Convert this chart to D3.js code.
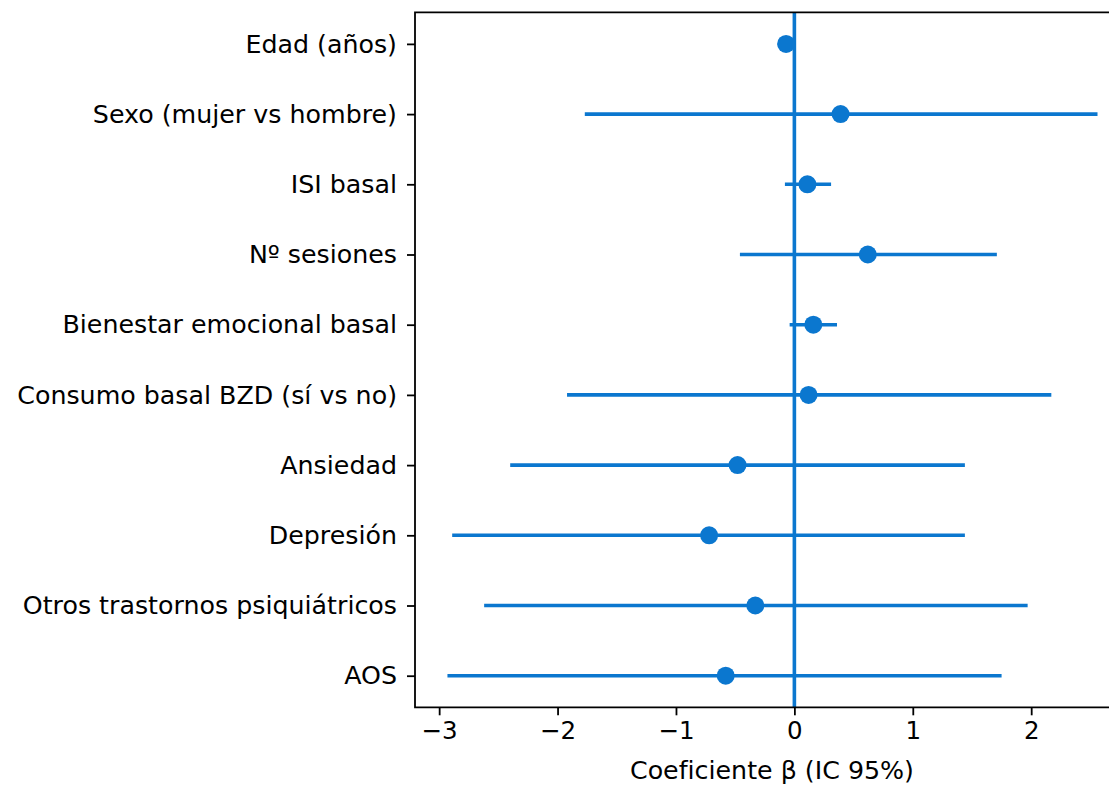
<!DOCTYPE html>
<html lang="es">
  <head>
    <meta charset="UTF-8" />
    <title>Forest plot</title>
    <script src="https://d3js.org/d3.v7.min.js"></script>
    <style>
      html,
      body {
        margin: 0;
        padding: 0;
        background: #fff;
        overflow: hidden;
      }
      svg {
        display: block;
        font-family: "DejaVu Sans", sans-serif;
      }
    </style>
  </head>
  <body>
    <svg id="chart"></svg>
    <script>
      // Predictors, top to bottom
      const variables = [
        "Edad (años)",
        "Sexo (mujer vs hombre)",
        "ISI basal",
        "Nº sesiones",
        "Bienestar emocional basal",
        "Consumo basal BZD (sí vs no)",
        "Ansiedad",
        "Depresión",
        "Otros trastornos psiquiátricos",
        "AOS",
      ];
      // beta estimates and 95% CI
      const beta = [-0.07, 0.39, 0.11, 0.62, 0.16, 0.12, -0.48, -0.72, -0.33, -0.58];
      const ciLow = [-0.1, -1.77, -0.08, -0.46, -0.04, -1.92, -2.4, -2.89, -2.62, -2.93];
      const ciHigh = [-0.04, 2.56, 0.31, 1.71, 0.36, 2.17, 1.44, 1.44, 1.97, 1.75];
      const xTicks = [-3, -2, -1, 0, 1, 2];

      const W = 1109,
        H = 786;
      const color = "#0b77cf";
      // plot box (right edge falls outside the picture, as in the original)
      const box = { left: 415, right: 1129, top: 12.3, bottom: 707.3 };

      const svg = d3.select("#chart").attr("width", W).attr("height", H);

      const x = d3.scaleLinear().domain([-3.204, 2.826]).range([box.left, box.right]);
      const y = d3
        .scaleLinear()
        .domain([-0.45, variables.length - 1 + 0.45])
        .range([box.top, box.bottom]);

      const rows = variables.map((v, i) => ({
        name: v,
        i: i,
        b: beta[i],
        lo: ciLow[i],
        hi: ciHigh[i],
      }));

      // zero reference line
      svg
        .append("line")
        .attr("x1", x(0))
        .attr("x2", x(0))
        .attr("y1", box.top)
        .attr("y2", box.bottom)
        .attr("stroke", color)
        .attr("stroke-width", 3.6);

      // confidence intervals
      svg
        .selectAll(".ci")
        .data(rows)
        .enter()
        .append("line")
        .attr("class", "ci")
        .attr("x1", (d) => x(d.lo))
        .attr("x2", (d) => x(d.hi))
        .attr("y1", (d) => y(d.i))
        .attr("y2", (d) => y(d.i))
        .attr("stroke", color)
        .attr("stroke-width", 3.6);

      // point estimates
      svg
        .selectAll(".pt")
        .data(rows)
        .enter()
        .append("circle")
        .attr("class", "pt")
        .attr("cx", (d) => x(d.b))
        .attr("cy", (d) => y(d.i))
        .attr("r", 9)
        .attr("fill", color);

      // x axis
      const xAxis = svg
        .append("g")
        .attr("transform", `translate(0,${box.bottom})`)
        .call(
          d3
            .axisBottom(x)
            .tickValues(xTicks)
            .tickSize(8)
            .tickPadding(6)
            .tickFormat((d) => (d < 0 ? "\u2212" + Math.abs(d) : d))
        );
      xAxis.select(".domain").remove();
      xAxis.selectAll("line").attr("stroke", "#000").attr("stroke-width", 1.8);
      xAxis
        .selectAll("text")
        .attr("fill", "#000")
        .style("font-size", "24.5px")
        .style("font-family", "DejaVu Sans");

      // y axis
      const yAxis = svg
        .append("g")
        .attr("transform", `translate(${box.left},0)`)
        .call(
          d3
            .axisLeft(y)
            .tickValues(d3.range(variables.length))
            .tickSize(8)
            .tickPadding(10)
            .tickFormat((i) => variables[i])
        );
      yAxis.select(".domain").remove();
      yAxis.selectAll("line").attr("stroke", "#000").attr("stroke-width", 1.8);
      yAxis
        .selectAll("text")
        .attr("fill", "#000")
        .style("font-size", "25.3px")
        .style("font-family", "DejaVu Sans");

      // spines (left, top, bottom)
      svg
        .append("path")
        .attr("d", `M${box.right},${box.top}H${box.left}V${box.bottom}H${box.right}`)
        .attr("fill", "none")
        .attr("stroke", "#000")
        .attr("stroke-width", 1.8);

      // x label
      svg
        .append("text")
        .attr("x", (box.left + box.right) / 2)
        .attr("y", 779)
        .attr("text-anchor", "middle")
        .style("font-size", "25.3px")
        .text("Coeficiente β (IC 95%)");
    </script>
  </body>
</html>
